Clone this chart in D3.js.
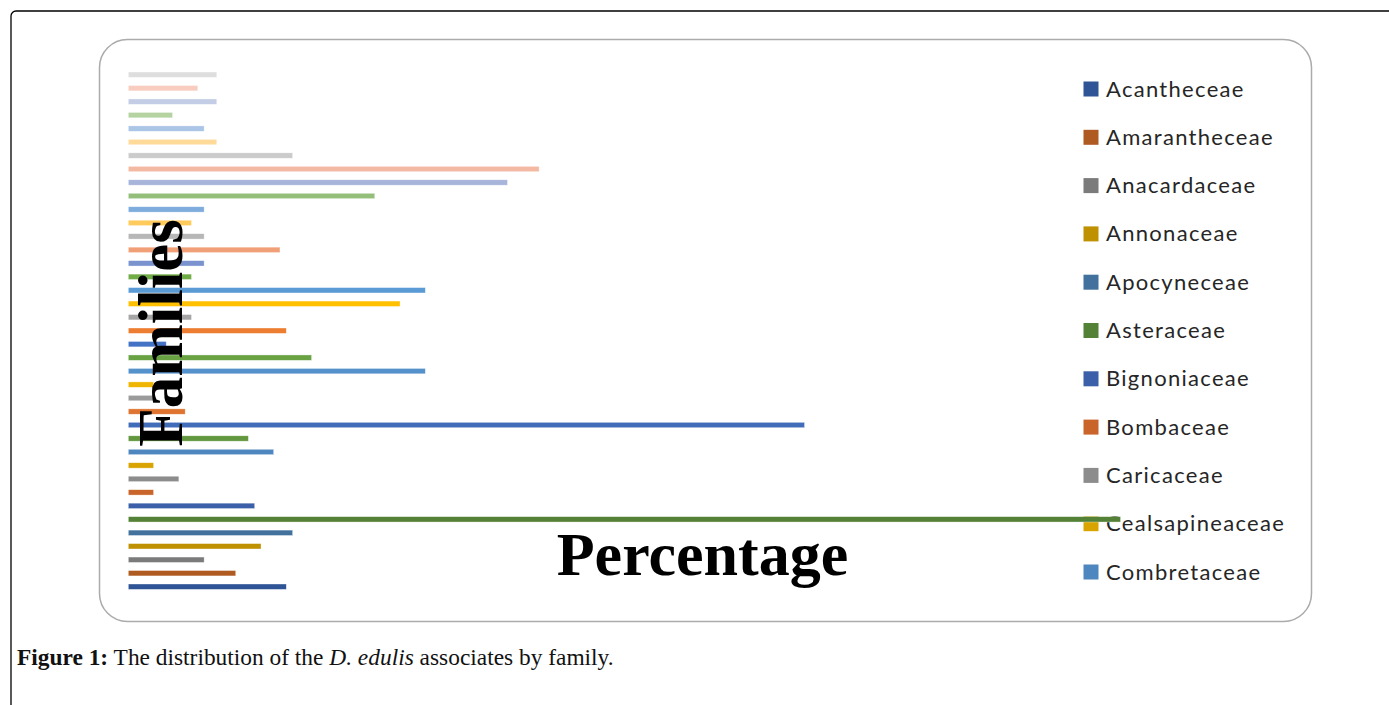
<!DOCTYPE html>
<html>
<head>
<meta charset="utf-8">
<script src="https://cdn.jsdelivr.net/npm/d3@7"></script>
<style>
  html, body { margin: 0; padding: 0; background: #ffffff; }
  svg { display: block; }
</style>
</head>
<body>
<svg id="chart" width="1389" height="705"></svg>
<script>
// ---- DATA (bottom bar first) ----
const families = [
  "Acantheceae", "Amarantheceae", "Anacardaceae", "Annonaceae", "Apocyneceae",
  "Asteraceae", "Bignoniaceae", "Bombaceae", "Caricaceae", "Cealsapineaceae",
  "Combretaceae", "Family 12", "Family 13", "Family 14", "Family 15", "Family 16",
  "Family 17", "Family 18", "Family 19", "Family 20", "Family 21", "Family 22",
  "Family 23", "Family 24", "Family 25", "Family 26", "Family 27", "Family 28",
  "Family 29", "Family 30", "Family 31", "Family 32", "Family 33", "Family 34",
  "Family 35", "Family 36", "Family 37", "Family 38", "Family 39"
];
const percentages = [
  2.5, 1.7, 1.2, 2.1, 2.6, 15.7, 2.0, 0.4, 0.8, 0.4,
  2.3, 1.9, 10.7, 0.9, 0.4, 0.4, 4.7, 2.9, 0.6, 2.5,
  1.0, 4.3, 4.7, 1.0, 1.2, 2.4, 1.2, 1.0, 1.2, 3.9,
  6.0, 6.5, 2.6, 1.4, 1.2, 0.7, 1.4, 1.1, 1.4
];
const colors = [
  "#2F5597", "#AE5A21", "#7B7B7B", "#BF9000", "#41719C", "#538135",
  "#3B5FA8", "#C9652B", "#8C8C8C", "#D9A300", "#4E86BF", "#62973F",
  "#416CBA", "#DE7430", "#9B9B9B", "#EFB500", "#5592CB", "#68A242",
  "#4472C4", "#ED7D31", "#A5A5A5", "#FFC000", "#5B9BD5", "#70AD47",
  "#7A93CE", "#F19F76", "#B7B7B7", "#FFCB5C", "#7EACDD", "#94BF7A",
  "#A7B5DB", "#F4B9A3", "#CBCBCB", "#FFDA99", "#AAC5E5", "#B4D3A0",
  "#C3CDE6", "#F8CDC0", "#DEDEDE"
];
const legendFamilies = families.slice(0, 11);
const xTitle = "Percentage";
const yTitle = "Families";

// ---- DRAW ----
const svg = d3.select("#chart");
const data = families.map((f, i) => ({ family: f, value: percentages[i], color: colors[i] }));

// outer frame
svg.append("rect")
  .attr("x", 11).attr("y", 11).attr("width", 1420).attr("height", 720)
  .attr("rx", 5).attr("fill", "none").attr("stroke", "#000").attr("stroke-width", 1.3);

// chart area
svg.append("rect")
  .attr("x", 99.5).attr("y", 39.5).attr("width", 1212).attr("height", 582)
  .attr("rx", 28).attr("fill", "#fff").attr("stroke", "#ababab").attr("stroke-width", 1.5);

const x = d3.scaleLinear().domain([0, 16]).range([128.3, 128.3 + 16 * 63.2]);
const y = d3.scalePoint().domain(families).range([586.7, 74.7]);

// legend
const ly = d3.scalePoint().domain(legendFamilies).range([89, 572]);
const legend = svg.append("g");
legend.selectAll("rect").data(legendFamilies).join("rect")
  .attr("x", 1083.5).attr("y", d => ly(d) - 7.5)
  .attr("width", 15).attr("height", 15)
  .attr("fill", (d, i) => colors[i]);
legend.selectAll("text").data(legendFamilies).join("text")
  .attr("x", 1106).attr("y", d => ly(d) + 7.5)
  .attr("font-family", "Lato, 'Open Sans', sans-serif")
  .attr("font-size", 22)
  .attr("letter-spacing", 1.3)
  .attr("fill", "#262626")
  .text(d => d);

// bars
svg.append("g").selectAll("rect").data(data).join("rect")
  .attr("x", x(0))
  .attr("y", d => y(d.family) - 2.7)
  .attr("width", d => x(d.value) - x(0))
  .attr("height", 5.4)
  .attr("fill", d => d.color)
  .attr("stroke", "rgba(255,255,255,0.6)")
  .attr("stroke-width", 0.6);

// axis titles
svg.append("text")
  .attr("x", 702.5).attr("y", 575)
  .attr("text-anchor", "middle")
  .attr("font-family", "'Liberation Serif', 'Times New Roman', serif")
  .attr("font-weight", "bold")
  .attr("font-size", 62)
  .attr("fill", "#000")
  .text(xTitle);

svg.append("text")
  .attr("transform", "translate(182,333) rotate(-90)")
  .attr("text-anchor", "middle")
  .attr("font-family", "'Liberation Serif', 'Times New Roman', serif")
  .attr("font-weight", "bold")
  .attr("font-size", 63)
  .attr("fill", "#000")
  .text(yTitle);

// caption
const cap = svg.append("text")
  .attr("x", 17).attr("y", 665)
  .attr("font-family", "'Liberation Serif', 'Times New Roman', serif")
  .attr("font-size", 23.4)
  .attr("fill", "#111");
cap.append("tspan").attr("font-weight", "bold").text("Figure 1:");
cap.append("tspan").text(" The distribution of the ");
cap.append("tspan").attr("font-style", "italic").text("D. edulis");
cap.append("tspan").text(" associates by family.");
</script>
</body>
</html>
